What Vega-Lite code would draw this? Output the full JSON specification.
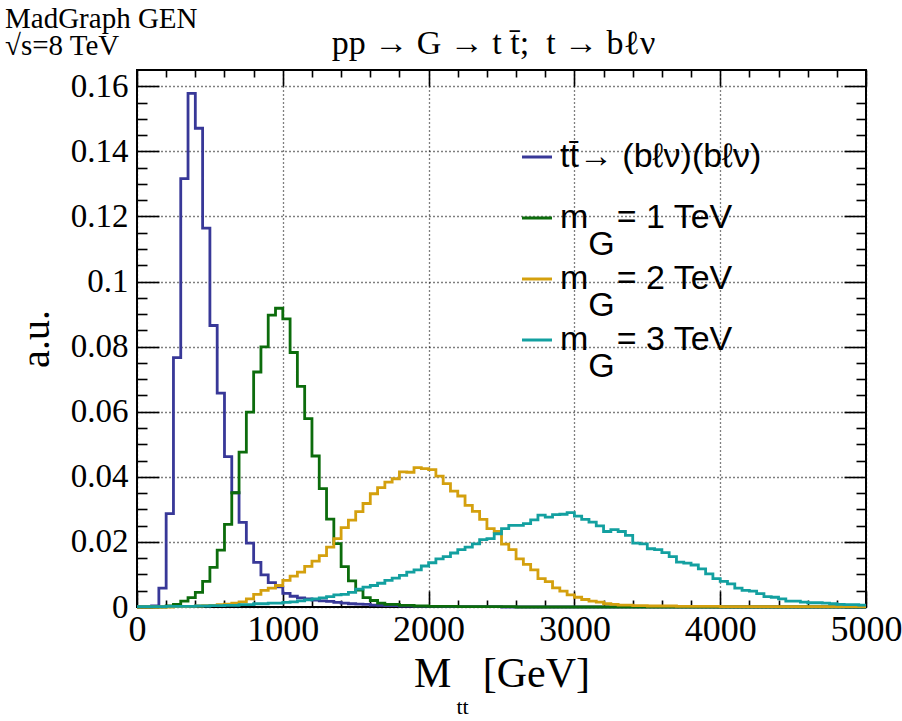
{
  "$schema": "https://vega.github.io/schema/vega-lite/v6.json",
  "width": 729,
  "height": 537,
  "autosize": {"type": "none"},
  "padding": {"left": 137, "top": 70, "right": 36, "bottom": 114},
  "background": "white",
  "config": {
    "view": {"stroke": "black", "strokeWidth": 2},
    "axis": {
      "domain": false,
      "tickColor": "black",
      "tickWidth": 1.6,
      "labelFont": "Liberation Serif",
      "labelColor": "black",
      "titleFont": "Liberation Serif",
      "titleColor": "black",
      "titleFontWeight": "normal",
      "gridColor": "black",
      "gridDash": [1, 3],
      "gridWidth": 1.3,
      "gridOpacity": 1
    }
  },
  "title": {
    "text": ["MadGraph GEN", "√s=8 TeV"],
    "anchor": "start",
    "frame": "group",
    "align": "left",
    "baseline": "top",
    "dx": -132,
    "offset": -35,
    "font": "Liberation Serif",
    "fontSize": 29,
    "fontWeight": "normal",
    "lineHeight": 27,
    "color": "black"
  },
  "data": {
    "values": [
      {"s": "SM", "x": 0, "y": 0}, {"s": "SM", "x": 100, "y": 0.0003}, {"s": "SM", "x": 150, "y": 0.0058}, {"s": "SM", "x": 200, "y": 0.0287}, {"s": "SM", "x": 250, "y": 0.0766}, {"s": "SM", "x": 300, "y": 0.1316}, {"s": "SM", "x": 350, "y": 0.1578}, {"s": "SM", "x": 400, "y": 0.1471}, {"s": "SM", "x": 450, "y": 0.1164}, {"s": "SM", "x": 500, "y": 0.0865}, {"s": "SM", "x": 550, "y": 0.0657}, {"s": "SM", "x": 600, "y": 0.0462}, {"s": "SM", "x": 650, "y": 0.0351}, {"s": "SM", "x": 700, "y": 0.026}, {"s": "SM", "x": 750, "y": 0.0196}, {"s": "SM", "x": 800, "y": 0.0137}, {"s": "SM", "x": 850, "y": 0.0099}, {"s": "SM", "x": 900, "y": 0.0075}, {"s": "SM", "x": 950, "y": 0.0062}, {"s": "SM", "x": 1000, "y": 0.0042}, {"s": "SM", "x": 1050, "y": 0.0033}, {"s": "SM", "x": 1100, "y": 0.0028}, {"s": "SM", "x": 1150, "y": 0.0025}, {"s": "SM", "x": 1200, "y": 0.0021}, {"s": "SM", "x": 1250, "y": 0.0019}, {"s": "SM", "x": 1300, "y": 0.0017}, {"s": "SM", "x": 1350, "y": 0.0014}, {"s": "SM", "x": 1400, "y": 0.0012}, {"s": "SM", "x": 1450, "y": 0.001}, {"s": "SM", "x": 1500, "y": 0.0009}, {"s": "SM", "x": 1550, "y": 0.0008}, {"s": "SM", "x": 1600, "y": 0.0006}, {"s": "SM", "x": 1650, "y": 0.0005}, {"s": "SM", "x": 1700, "y": 0.0004}, {"s": "SM", "x": 1800, "y": 0.0003}, {"s": "SM", "x": 1900, "y": 0.0002}, {"s": "SM", "x": 2100, "y": 0.0001}, {"s": "SM", "x": 2500, "y": 0}, {"s": "SM", "x": 5000, "y": 0},
      {"s": "1", "x": 0, "y": 0}, {"s": "1", "x": 200, "y": 0.0003}, {"s": "1", "x": 250, "y": 0.0008}, {"s": "1", "x": 300, "y": 0.0018}, {"s": "1", "x": 350, "y": 0.0029}, {"s": "1", "x": 400, "y": 0.0045}, {"s": "1", "x": 450, "y": 0.0079}, {"s": "1", "x": 500, "y": 0.0122}, {"s": "1", "x": 550, "y": 0.0175}, {"s": "1", "x": 600, "y": 0.0254}, {"s": "1", "x": 650, "y": 0.0351}, {"s": "1", "x": 700, "y": 0.0476}, {"s": "1", "x": 750, "y": 0.0599}, {"s": "1", "x": 800, "y": 0.0722}, {"s": "1", "x": 850, "y": 0.0799}, {"s": "1", "x": 900, "y": 0.0897}, {"s": "1", "x": 950, "y": 0.0918}, {"s": "1", "x": 1000, "y": 0.0885}, {"s": "1", "x": 1050, "y": 0.0782}, {"s": "1", "x": 1100, "y": 0.0678}, {"s": "1", "x": 1150, "y": 0.0579}, {"s": "1", "x": 1200, "y": 0.0464}, {"s": "1", "x": 1250, "y": 0.0364}, {"s": "1", "x": 1300, "y": 0.027}, {"s": "1", "x": 1350, "y": 0.0195}, {"s": "1", "x": 1400, "y": 0.0124}, {"s": "1", "x": 1450, "y": 0.008}, {"s": "1", "x": 1500, "y": 0.0052}, {"s": "1", "x": 1550, "y": 0.0029}, {"s": "1", "x": 1600, "y": 0.002}, {"s": "1", "x": 1650, "y": 0.0012}, {"s": "1", "x": 1700, "y": 0.0008}, {"s": "1", "x": 1800, "y": 0.0005}, {"s": "1", "x": 1900, "y": 0.0003}, {"s": "1", "x": 2000, "y": 0.0002}, {"s": "1", "x": 2200, "y": 0.0001}, {"s": "1", "x": 2600, "y": 0}, {"s": "1", "x": 5000, "y": 0},
      {"s": "2", "x": 0, "y": 0}, {"s": "2", "x": 250, "y": 0.0001}, {"s": "2", "x": 350, "y": 0.0002}, {"s": "2", "x": 400, "y": 0.0003}, {"s": "2", "x": 450, "y": 0.0004}, {"s": "2", "x": 500, "y": 0.0005}, {"s": "2", "x": 550, "y": 0.0007}, {"s": "2", "x": 600, "y": 0.0009}, {"s": "2", "x": 650, "y": 0.0012}, {"s": "2", "x": 700, "y": 0.0016}, {"s": "2", "x": 750, "y": 0.0025}, {"s": "2", "x": 800, "y": 0.0039}, {"s": "2", "x": 850, "y": 0.0051}, {"s": "2", "x": 900, "y": 0.0058}, {"s": "2", "x": 950, "y": 0.0066}, {"s": "2", "x": 1000, "y": 0.0082}, {"s": "2", "x": 1050, "y": 0.0095}, {"s": "2", "x": 1100, "y": 0.0107}, {"s": "2", "x": 1150, "y": 0.0125}, {"s": "2", "x": 1200, "y": 0.0141}, {"s": "2", "x": 1250, "y": 0.0158}, {"s": "2", "x": 1300, "y": 0.0184}, {"s": "2", "x": 1350, "y": 0.021}, {"s": "2", "x": 1400, "y": 0.0244}, {"s": "2", "x": 1450, "y": 0.0267}, {"s": "2", "x": 1500, "y": 0.0293}, {"s": "2", "x": 1550, "y": 0.0318}, {"s": "2", "x": 1600, "y": 0.0348}, {"s": "2", "x": 1650, "y": 0.0367}, {"s": "2", "x": 1700, "y": 0.0384}, {"s": "2", "x": 1750, "y": 0.0394}, {"s": "2", "x": 1800, "y": 0.0415}, {"s": "2", "x": 1850, "y": 0.0414}, {"s": "2", "x": 1900, "y": 0.0428}, {"s": "2", "x": 1950, "y": 0.0425}, {"s": "2", "x": 2000, "y": 0.0422}, {"s": "2", "x": 2050, "y": 0.0402}, {"s": "2", "x": 2100, "y": 0.0379}, {"s": "2", "x": 2150, "y": 0.0356}, {"s": "2", "x": 2200, "y": 0.0341}, {"s": "2", "x": 2250, "y": 0.0312}, {"s": "2", "x": 2300, "y": 0.0294}, {"s": "2", "x": 2350, "y": 0.0269}, {"s": "2", "x": 2400, "y": 0.0241}, {"s": "2", "x": 2450, "y": 0.0232}, {"s": "2", "x": 2500, "y": 0.0193}, {"s": "2", "x": 2550, "y": 0.0176}, {"s": "2", "x": 2600, "y": 0.0148}, {"s": "2", "x": 2650, "y": 0.0131}, {"s": "2", "x": 2700, "y": 0.0114}, {"s": "2", "x": 2750, "y": 0.0087}, {"s": "2", "x": 2800, "y": 0.0078}, {"s": "2", "x": 2850, "y": 0.0059}, {"s": "2", "x": 2900, "y": 0.0049}, {"s": "2", "x": 2950, "y": 0.0037}, {"s": "2", "x": 3000, "y": 0.003}, {"s": "2", "x": 3050, "y": 0.0023}, {"s": "2", "x": 3100, "y": 0.0018}, {"s": "2", "x": 3150, "y": 0.0015}, {"s": "2", "x": 3200, "y": 0.001}, {"s": "2", "x": 3250, "y": 0.0008}, {"s": "2", "x": 3300, "y": 0.0006}, {"s": "2", "x": 3400, "y": 0.0004}, {"s": "2", "x": 3500, "y": 0.0003}, {"s": "2", "x": 3700, "y": 0.0002}, {"s": "2", "x": 4000, "y": 0.0001}, {"s": "2", "x": 5000, "y": 0.0001},
      {"s": "3", "x": 0, "y": 0.0001}, {"s": "3", "x": 200, "y": 0.0002}, {"s": "3", "x": 400, "y": 0.0003}, {"s": "3", "x": 500, "y": 0.0004}, {"s": "3", "x": 600, "y": 0.0005}, {"s": "3", "x": 700, "y": 0.0007}, {"s": "3", "x": 800, "y": 0.001}, {"s": "3", "x": 900, "y": 0.0012}, {"s": "3", "x": 1000, "y": 0.0014}, {"s": "3", "x": 1050, "y": 0.0016}, {"s": "3", "x": 1100, "y": 0.0019}, {"s": "3", "x": 1150, "y": 0.0022}, {"s": "3", "x": 1200, "y": 0.0025}, {"s": "3", "x": 1250, "y": 0.0028}, {"s": "3", "x": 1300, "y": 0.0032}, {"s": "3", "x": 1350, "y": 0.0037}, {"s": "3", "x": 1400, "y": 0.0039}, {"s": "3", "x": 1450, "y": 0.0045}, {"s": "3", "x": 1500, "y": 0.0055}, {"s": "3", "x": 1550, "y": 0.0061}, {"s": "3", "x": 1600, "y": 0.0066}, {"s": "3", "x": 1650, "y": 0.0073}, {"s": "3", "x": 1700, "y": 0.0082}, {"s": "3", "x": 1750, "y": 0.0089}, {"s": "3", "x": 1800, "y": 0.0097}, {"s": "3", "x": 1850, "y": 0.0107}, {"s": "3", "x": 1900, "y": 0.0114}, {"s": "3", "x": 1950, "y": 0.0126}, {"s": "3", "x": 2000, "y": 0.0136}, {"s": "3", "x": 2050, "y": 0.0148}, {"s": "3", "x": 2100, "y": 0.0155}, {"s": "3", "x": 2150, "y": 0.0166}, {"s": "3", "x": 2200, "y": 0.0176}, {"s": "3", "x": 2250, "y": 0.0184}, {"s": "3", "x": 2300, "y": 0.0194}, {"s": "3", "x": 2350, "y": 0.0207}, {"s": "3", "x": 2400, "y": 0.021}, {"s": "3", "x": 2450, "y": 0.0225}, {"s": "3", "x": 2500, "y": 0.0241}, {"s": "3", "x": 2550, "y": 0.0251}, {"s": "3", "x": 2600, "y": 0.0251}, {"s": "3", "x": 2650, "y": 0.0256}, {"s": "3", "x": 2700, "y": 0.0268}, {"s": "3", "x": 2750, "y": 0.0282}, {"s": "3", "x": 2800, "y": 0.0276}, {"s": "3", "x": 2850, "y": 0.0284}, {"s": "3", "x": 2900, "y": 0.0285}, {"s": "3", "x": 2950, "y": 0.029}, {"s": "3", "x": 3000, "y": 0.0279}, {"s": "3", "x": 3050, "y": 0.0269}, {"s": "3", "x": 3100, "y": 0.0261}, {"s": "3", "x": 3150, "y": 0.0249}, {"s": "3", "x": 3200, "y": 0.0232}, {"s": "3", "x": 3250, "y": 0.0238}, {"s": "3", "x": 3300, "y": 0.0232}, {"s": "3", "x": 3350, "y": 0.022}, {"s": "3", "x": 3400, "y": 0.0196}, {"s": "3", "x": 3450, "y": 0.0194}, {"s": "3", "x": 3500, "y": 0.0179}, {"s": "3", "x": 3550, "y": 0.0176}, {"s": "3", "x": 3600, "y": 0.0167}, {"s": "3", "x": 3650, "y": 0.0155}, {"s": "3", "x": 3700, "y": 0.0138}, {"s": "3", "x": 3750, "y": 0.0135}, {"s": "3", "x": 3800, "y": 0.0129}, {"s": "3", "x": 3850, "y": 0.0117}, {"s": "3", "x": 3900, "y": 0.0102}, {"s": "3", "x": 3950, "y": 0.0087}, {"s": "3", "x": 4000, "y": 0.0079}, {"s": "3", "x": 4050, "y": 0.0071}, {"s": "3", "x": 4100, "y": 0.0058}, {"s": "3", "x": 4150, "y": 0.0051}, {"s": "3", "x": 4200, "y": 0.0049}, {"s": "3", "x": 4250, "y": 0.0041}, {"s": "3", "x": 4300, "y": 0.0032}, {"s": "3", "x": 4350, "y": 0.003}, {"s": "3", "x": 4400, "y": 0.0025}, {"s": "3", "x": 4450, "y": 0.0018}, {"s": "3", "x": 4500, "y": 0.0018}, {"s": "3", "x": 4550, "y": 0.0015}, {"s": "3", "x": 4600, "y": 0.0013}, {"s": "3", "x": 4650, "y": 0.0013}, {"s": "3", "x": 4700, "y": 0.0012}, {"s": "3", "x": 4750, "y": 0.001}, {"s": "3", "x": 4800, "y": 0.0008}, {"s": "3", "x": 4850, "y": 0.0007}, {"s": "3", "x": 4900, "y": 0.0007}, {"s": "3", "x": 4950, "y": 0.0006}, {"s": "3", "x": 5000, "y": 0.0006}
    ]
  },
  "layer": [
    {
      "mark": {"type": "line", "interpolate": "step-after", "strokeWidth": 2.8},
      "encoding": {
        "x": {
          "field": "x", "type": "quantitative",
          "scale": {"domain": [0, 5000], "nice": false, "zero": false},
          "axis": {
            "orient": "bottom",
            "values": [0, 1000, 2000, 3000, 4000, 5000],
            "format": "d",
            "tickSize": -16,
            "grid": true,
            "labelFontSize": 36,
            "labelPadding": 21,
            "labelFlush": false,
            "title": "M\u00a0\u00a0 [GeV]",
            "titleFontSize": 42,
            "titlePadding": 6
          }
        },
        "y": {
          "field": "y", "type": "quantitative",
          "scale": {"domain": [0, 0.165], "nice": false},
          "axis": {
            "orient": "left",
            "values": [0, 0.02, 0.04, 0.06, 0.08, 0.1, 0.12, 0.14, 0.16],
            "format": "~g",
            "tickSize": -22,
            "grid": true,
            "labelFontSize": 33,
            "labelPadding": 31,
            "labelFlush": false,
            "title": "a.u.",
            "titleFontSize": 40,
            "titlePadding": 14
          }
        },
        "color": {
          "field": "s", "type": "nominal",
          "scale": {"domain": ["SM", "1", "2", "3"], "range": ["#383898", "#0c6c0c", "#d4a00e", "#13a0a0"]},
          "legend": {
            "orient": "none",
            "legendX": 383,
            "legendY": 70,
            "title": null,
            "padding": 0,
            "symbolType": "stroke",
            "symbolSize": 900,
            "symbolStrokeWidth": 3,
            "labelFont": "Liberation Sans",
            "labelFontSize": 34,
            "labelColor": "black",
            "labelOffset": 6,
            "labelLimit": 500,
            "rowPadding": -2,
            "labelExpr": "datum.value === 'SM' ? ['tt\u0304→ (bℓν)(bℓν)', '\u00a0'] : ['m\u00a0\u00a0\u00a0= ' + datum.value + ' TeV', '\u200b\u00a0\u00a0\u00a0G']",
            "encode": {"labels": {"update": {"lineHeight": {"value": 27}}}}
          }
        }
      }
    },
    {
      "mark": {"type": "line", "strokeOpacity": 0},
      "encoding": {
        "x": {"field": "x", "type": "quantitative", "axis": {"orient": "bottom", "values": [200, 400, 600, 800, 1200, 1400, 1600, 1800, 2200, 2400, 2600, 2800, 3200, 3400, 3600, 3800, 4200, 4400, 4600, 4800], "tickSize": -7, "labels": false, "grid": false, "title": null}},
        "y": {"field": "y", "type": "quantitative", "axis": {"orient": "left", "values": [0.005, 0.01, 0.015, 0.025, 0.03, 0.035, 0.045, 0.05, 0.055, 0.065, 0.07, 0.075, 0.085, 0.09, 0.095, 0.105, 0.11, 0.115, 0.125, 0.13, 0.135, 0.145, 0.15, 0.155], "tickSize": -10, "labels": false, "grid": false, "title": null}},
        "detail": {"field": "s"}
      }
    },
    {
      "mark": {"type": "line", "strokeOpacity": 0},
      "encoding": {
        "x": {"field": "x", "type": "quantitative", "axis": {"orient": "top", "values": [0, 1000, 2000, 3000, 4000, 5000], "tickSize": -16, "labels": false, "grid": false, "title": "pp → G → t t\u0304;\u00a0\u00a0t → bℓν", "titleFontSize": 34, "titlePadding": 9, "titleX": 356, "titleAlign": "center"}},
        "y": {"field": "y", "type": "quantitative", "axis": {"orient": "right", "values": [0, 0.02, 0.04, 0.06, 0.08, 0.1, 0.12, 0.14, 0.16], "tickSize": -22, "labels": false, "grid": false, "title": "tt", "titleFontSize": 22, "titleAngle": 0, "titleX": -404, "titleY": 636, "titleAlign": "center", "titleBaseline": "middle"}},
        "detail": {"field": "s"}
      }
    },
    {
      "mark": {"type": "line", "strokeOpacity": 0},
      "encoding": {
        "x": {"field": "x", "type": "quantitative", "axis": {"orient": "top", "values": [200, 400, 600, 800, 1200, 1400, 1600, 1800, 2200, 2400, 2600, 2800, 3200, 3400, 3600, 3800, 4200, 4400, 4600, 4800], "tickSize": -7, "labels": false, "grid": false, "title": null}},
        "y": {"field": "y", "type": "quantitative", "axis": {"orient": "right", "values": [0.005, 0.01, 0.015, 0.025, 0.03, 0.035, 0.045, 0.05, 0.055, 0.065, 0.07, 0.075, 0.085, 0.09, 0.095, 0.105, 0.11, 0.115, 0.125, 0.13, 0.135, 0.145, 0.15, 0.155], "tickSize": -10, "labels": false, "grid": false, "title": null}},
        "detail": {"field": "s"}
      }
    }
  ],
  "resolve": {"axis": {"x": "independent", "y": "independent"}}
}
